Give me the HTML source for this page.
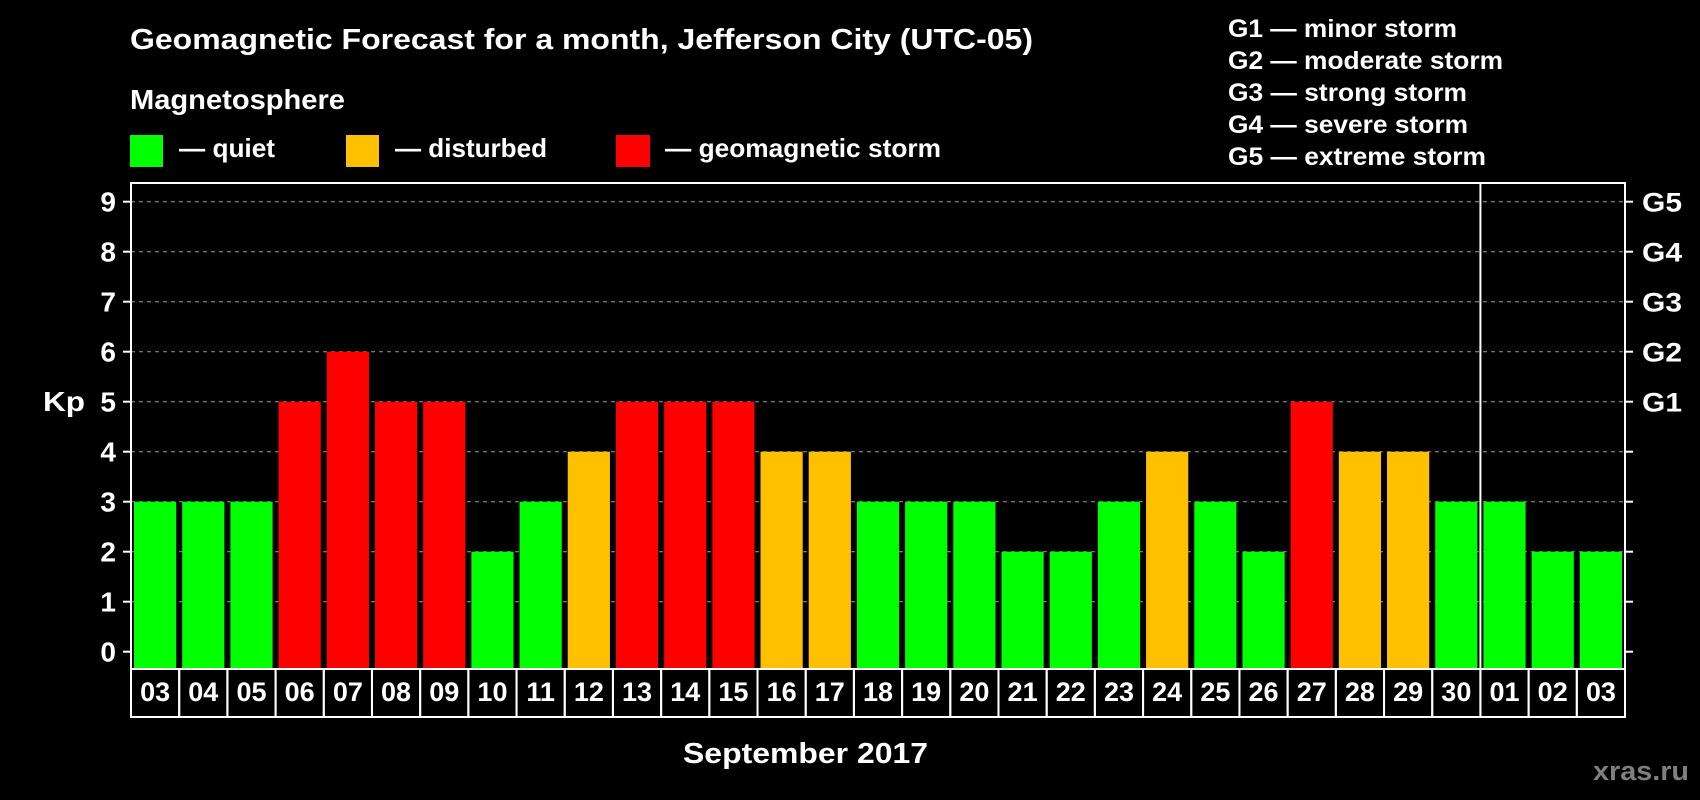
<!DOCTYPE html>
<html><head><meta charset="utf-8"><style>
html,body{margin:0;padding:0;background:#000;}
svg{display:block;font-family:"Liberation Sans",Arial,sans-serif;font-weight:bold;}
</style></head><body>
<svg id="chart" width="1700" height="800" viewBox="0 0 1700 800" xmlns="http://www.w3.org/2000/svg">
<rect width="1700" height="800" fill="#000"/>
<text x="130" y="49" fill="#fff" font-size="29" textLength="903" lengthAdjust="spacingAndGlyphs">Geomagnetic Forecast for a month, Jefferson City (UTC-05)</text>
<text x="130" y="109" fill="#fff" font-size="28" textLength="215" lengthAdjust="spacingAndGlyphs">Magnetosphere</text>
<g><rect x="130" y="135" width="33" height="32" fill="#00ff00"/><text x="179" y="157" fill="#fff" font-size="26" textLength="96" lengthAdjust="spacingAndGlyphs">— quiet</text></g>
<g><rect x="346" y="135" width="33" height="32" fill="#ffc000"/><text x="395" y="157" fill="#fff" font-size="26" textLength="152" lengthAdjust="spacingAndGlyphs">— disturbed</text></g>
<g><rect x="616" y="135" width="34" height="32" fill="#ff0000"/><text x="665" y="157" fill="#fff" font-size="26" textLength="276" lengthAdjust="spacingAndGlyphs">— geomagnetic storm</text></g>
<g fill="#fff" font-size="25">
<text x="1228" y="37" textLength="229" lengthAdjust="spacingAndGlyphs">G1 — minor storm</text>
<text x="1228" y="69" textLength="275" lengthAdjust="spacingAndGlyphs">G2 — moderate storm</text>
<text x="1228" y="101" textLength="239" lengthAdjust="spacingAndGlyphs">G3 — strong storm</text>
<text x="1228" y="133" textLength="240" lengthAdjust="spacingAndGlyphs">G4 — severe storm</text>
<text x="1228" y="165" textLength="258" lengthAdjust="spacingAndGlyphs">G5 — extreme storm</text>
</g>
<g id="grid"></g>
<g id="bars"></g>
<g id="axes"></g>
<text x="43" y="411" fill="#fff" font-size="28" textLength="42" lengthAdjust="spacingAndGlyphs">Kp</text>
<text x="683" y="763" fill="#fff" font-size="29" textLength="245" lengthAdjust="spacingAndGlyphs">September 2017</text>
<text x="1593" y="780" fill="#7f7f7f" font-size="27" textLength="96" lengthAdjust="spacingAndGlyphs">xras.ru</text>
</svg>
<script>
const days = ["03","04","05","06","07","08","09","10","11","12","13","14","15","16","17","18","19","20","21","22","23","24","25","26","27","28","29","30","01","02","03"];
const kpValues = [3,3,3,5,6,5,5,2,3,4,5,5,5,4,4,3,3,3,2,2,3,4,3,2,5,4,4,3,3,2,2];
const yTicks = [0,1,2,3,4,5,6,7,8,9];
const gLabels = ["G1","G2","G3","G4","G5"];
const monthBreakIndex = 28;

const NS = "http://www.w3.org/2000/svg";
const L = 131, R = 1625, T = 183, B = 669;
const cellW = (R - L) / days.length;
const y = v => 651.7 - v * 50;
const x = i => L + i * cellW;
function mk(tag, attrs, parent){const e=document.createElementNS(NS,tag);for(const k in attrs)e.setAttribute(k,attrs[k]);parent.appendChild(e);return e;}
const grid=document.getElementById('grid'), bars=document.getElementById('bars'), axes=document.getElementById('axes');
function color(v){return v>=5?"#ff0000":(v===4?"#ffc000":"#00ff00");}

yTicks.forEach(t=>{
  if(t>0){const g=mk('line',{x1:L,x2:R,y1:y(t),y2:y(t),stroke:'#999','stroke-width':1,'stroke-dasharray':'4,4'},grid);
  
  }
  const tk=mk('line',{x1:L-8,x2:L,y1:y(t),y2:y(t),stroke:'#fff','stroke-width':2},axes);
  
  
  const tr=mk('line',{x1:R,x2:R+8,y1:y(t),y2:y(t),stroke:'#fff','stroke-width':2},axes);
  
  
  const lb=mk('text',{x:L-15,y:y(t)+10,fill:'#fff','font-size':28,'text-anchor':'end'},axes);
  lb.textContent=t;
  
  
});
gLabels.forEach((g,i)=>{
  const lb=mk('text',{x:R+17,y:y(5+i)+10,fill:'#fff','font-size':27,textLength:40,lengthAdjust:'spacingAndGlyphs'},axes);
  lb.textContent=g;
  
  
});
kpValues.forEach((v,i)=>{
  const r=mk('rect',{x:x(i)+3,y:y(v),width:cellW-6,height:B-y(v),fill:color(v)},bars);
  
  
  const c=mk('rect',{x:x(i),y:B,width:cellW,height:48,fill:'none',stroke:'#fff','stroke-width':2},axes);
  
  
  const t=mk('text',{x:x(i)+cellW/2,y:B+32,fill:'#fff','font-size':27,'text-anchor':'middle'},axes);
  t.textContent=days[i];
  
  
});
const f=mk('rect',{x:L,y:T,width:R-L,height:B-T,fill:'none',stroke:'#fff','stroke-width':2},axes);


const sep=mk('line',{x1:x(monthBreakIndex),x2:x(monthBreakIndex),y1:T,y2:B,stroke:'#fff','stroke-width':2},axes);


</script>
</body></html>
